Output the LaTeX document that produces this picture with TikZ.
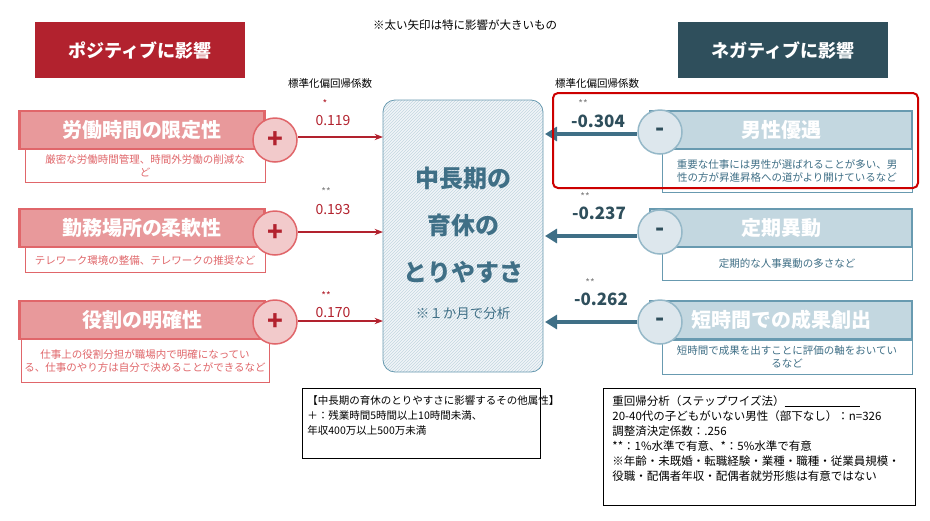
\documentclass[tikz,border=0pt]{standalone}
\usepackage{fontspec}
\setmainfont{Noto Sans CJK JP}
\usetikzlibrary{positioning, arrows.meta, patterns}
\definecolor{posdark}{RGB}{178,34,46}
\definecolor{posmid}{RGB}{224,102,106}
\definecolor{poslight}{RGB}{232,153,155}
\definecolor{poscirc}{RGB}{242,202,203}
\definecolor{negdark}{RGB}{47,79,92}
\definecolor{negmid}{RGB}{104,154,176}
\definecolor{neglight}{RGB}{195,215,224}
\definecolor{negcirc}{RGB}{221,231,237}
\definecolor{negtext}{RGB}{63,111,134}
\tikzset{
  poshead/.style={fill=poslight, draw=posmid, line width=2.5pt, text=white, font=\bfseries\fontsize{20}{22}\selectfont},
  posdesc/.style={draw=posmid, fill=white, line width=0.8pt, text=posmid, font=\fontsize{10.5}{13}\selectfont, align=center},
  poscircle/.style={circle, minimum size=44pt, fill=poscirc, draw=posmid, line width=1.5pt, text=posdark, font=\bfseries\fontsize{26}{26}\selectfont},
  neghead/.style={fill=neglight, draw=negmid, line width=2.5pt, text=white, font=\bfseries\fontsize{20}{22}\selectfont},
  negdesc/.style={draw=negmid, fill=white, line width=0.8pt, text=negtext, font=\fontsize{10.5}{13}\selectfont, align=center},
  negcircle/.style={circle, minimum size=44pt, fill=negcirc, draw=negmid!70, line width=1.5pt, text=negdark, font=\bfseries\fontsize{24}{24}\selectfont},
  posval/.style={text=posdark, font=\fontsize{14}{14}\selectfont},
  negval/.style={text=negdark, font=\bfseries\fontsize{17}{17}\selectfont},
  star/.style={text=gray, font=\fontsize{10}{10}\selectfont},
  note/.style={draw=black, line width=0.8pt, align=left, anchor=north west, inner sep=0pt, font=\fontsize{11.5}{15}\selectfont}
}
\begin{document}
\begin{tikzpicture}[x=1pt, y=-1pt, >=Stealth]
\useasboundingbox (0,0) rectangle (930,520);

% Titres
\fill[posdark] (35,22) rectangle (245,78);
\node[text=white, font=\bfseries\fontsize{18}{18}\selectfont] (postitle) at (140,50) {ポジティブに影響};
\fill[negdark] (678,22) rectangle (888,78);
\node[text=white, font=\bfseries\fontsize{18}{18}\selectfont] (negtitle) at (783,50) {ネガティブに影響};
\node[font=\fontsize{11.5}{12}\selectfont] (remark) at (465,25) {※太い矢印は特に影響が大きいもの};
\node[font=\fontsize{10.5}{11}\selectfont] (coefL) at (330,83) {標準化偏回帰係数};
\node[font=\fontsize{10.5}{11}\selectfont] (coefR) at (597,83) {標準化偏回帰係数};

% Boite centrale
\fill[negcirc!40, rounded corners=12pt] (383,100) rectangle (543,372);
\fill[pattern=north east lines, pattern color=neglight, rounded corners=12pt] (383,100) rectangle (543,372);
\draw[negmid, line width=0.8pt, rounded corners=12pt] (383,100) rectangle (543,372);
\coordinate (cL1) at (383,137); \coordinate (cL2) at (383,232); \coordinate (cL3) at (383,321);
\coordinate (cR1) at (545,134); \coordinate (cR2) at (545,236); \coordinate (cR3) at (545,322);
\node[text=negtext, font=\bfseries\fontsize{24}{24}\selectfont] (t1) at (463,178) {中長期の};
\node[text=negtext, font=\bfseries\fontsize{24}{24}\selectfont] (t2) at (463,225) {育休の};
\node[text=negtext, font=\bfseries\fontsize{24}{24}\selectfont] (t3) at (463,272) {とりやすさ};
\node[text=negtext, font=\fontsize{13.5}{14}\selectfont] (t4) at (463,313) {※１か月で分析};

% Facteurs positifs
\node[posdesc, minimum width=240pt, minimum height=33pt] (pd1) at (145,166) {厳密な労働時間管理、時間外労働の削減な\\ど};
\node[poshead, minimum width=245pt, minimum height=38pt] (ph1) at (142,130) {労働時間の限定性};
\node[poscircle] (pc1) at (275,140) {+};
\node[posdesc, minimum width=240pt, minimum height=25pt] (pd2) at (145,260) {テレワーク環境の整備、テレワークの推奨など};
\node[poshead, minimum width=245pt, minimum height=38pt] (ph2) at (142,228) {勤務場所の柔軟性};
\node[poscircle] (pc2) at (275,233) {+};
\node[posdesc, minimum width=240pt, minimum height=43pt] (pd3) at (145,361) {仕事上の役割分担が職場内で明確になってい\\る、仕事のやり方は自分で決めることができるなど};
\node[poshead, minimum width=245pt, minimum height=38pt] (ph3) at (142,320) {役割の明確性};
\node[poscircle] (pc3) at (275,322) {+};
\draw[->, posdark, line width=1.2pt] (pc1.east |- cL1) -- (cL1);
\draw[->, posdark, line width=1.2pt] (pc2.east |- cL2) -- (cL2);
\draw[->, posdark, line width=1.2pt] (pc3.east |- cL3) -- (cL3);
\node[star, text=posdark] (ps1) at (325,104) {*};
\node[posval] (pv1) at (333,121) {0.119};
\node[star] (ps2) at (326,192) {**};
\node[posval] (pv2) at (333,210) {0.193};
\node[star, text=posdark] (ps3) at (326,296) {**};
\node[posval] (pv3) at (333,313) {0.170};

% Facteurs negatifs
\node[negdesc, minimum width=250pt, minimum height=43pt] (nd1) at (787,171) {重要な仕事には男性が選ばれることが多い、男\\性の方が昇進昇格への道がより開けているなど};
\node[neghead, minimum width=262pt, minimum height=38pt] (nh1) at (781,130) {男性優遇};
\node[negcircle] (nc1) at (660,132) {-};
\node[negdesc, minimum width=250pt, minimum height=33pt] (nd2) at (787,264) {定期的な人事異動の多さなど};
\node[neghead, minimum width=262pt, minimum height=38pt] (nh2) at (781,228) {定期異動};
\node[negcircle] (nc2) at (660,232) {-};
\node[negdesc, minimum width=250pt, minimum height=34pt] (nd3) at (787,357) {短時間で成果を出すことに評価の軸をおいてい\\るなど};
\node[neghead, minimum width=262pt, minimum height=38pt] (nh3) at (781,320) {短時間での成果創出};
\node[negcircle] (nc3) at (660,322) {-};
\draw[-{Triangle[length=12pt, width=14pt]}, negtext, line width=4.5pt] (nc1.west |- cR1) -- (cR1);
\draw[-{Triangle[length=12pt, width=14pt]}, negtext, line width=4.5pt] (nc2.west |- cR2) -- (cR2);
\draw[-{Triangle[length=12pt, width=14pt]}, negtext, line width=4.5pt] (nc3.west |- cR3) -- (cR3);
\node[star] (ns1) at (583,104) {**};
\node[negval] (nv1) at (598,121) {-0.304};
\node[star] (ns2) at (585,197) {**};
\node[negval] (nv2) at (599,213) {-0.237};
\node[star] (ns3) at (590,283) {**};
\node[negval] (nv3) at (601,299) {-0.262};
\draw[red!80!black, line width=2pt, rounded corners=5pt] (553,93) rectangle (918,188);

% Notes
\draw[line width=0.8pt] (302,388) rectangle (540,458);
\node[note, draw=none, font=\fontsize{10.5}{15}\selectfont] (noteL) at (307,395) {【中長期の育休のとりやすさに影響するその他属性】\\＋：残業時間5時間以上10時間未満、\\年収400万以上500万未満};
\draw[line width=0.8pt] (603,388) rectangle (915,505);
\node[note, draw=none] (noteR) at (612,395) {重回帰分析（ステップワイズ法）\underline{\hspace{75pt}}\\20-40代の子どもがいない男性（部下なし）：n=326\\調整済決定係数：.256\\**：1\%水準で有意、*：5\%水準で有意\\※年齢・未既婚・転職経験・業種・職種・従業員規模・\\役職・配偶者年収・配偶者就労形態は有意ではない};

\end{tikzpicture}
\end{document}
